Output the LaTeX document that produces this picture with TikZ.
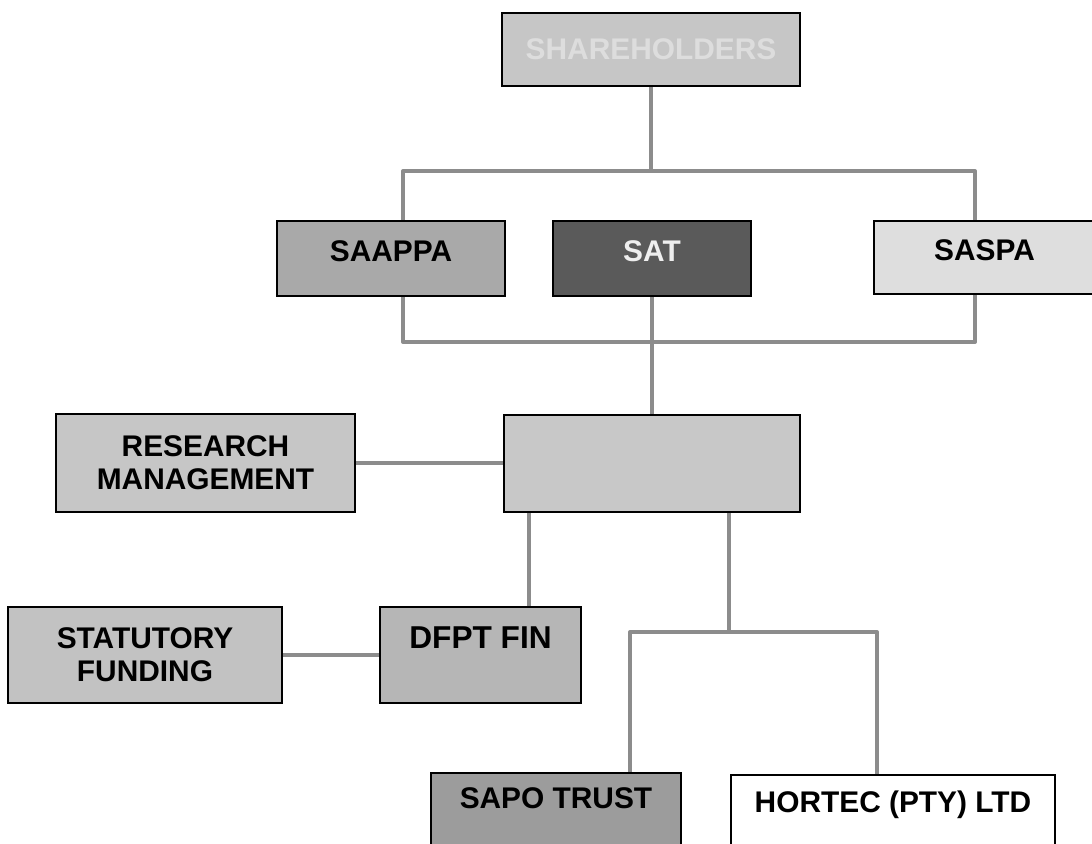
\documentclass[tikz,border=0pt]{standalone}
\usepackage{fontspec}
\setmainfont{Liberation Sans}
\definecolor{linkgray}{HTML}{8C8C8C}
\definecolor{topgray}{HTML}{C6C6C6}
\definecolor{saappagray}{HTML}{A9A9A9}
\definecolor{satgray}{HTML}{5A5A5A}
\definecolor{saspagray}{HTML}{DEDEDE}
\definecolor{midgray}{HTML}{C8C8C8}
\definecolor{resgray}{HTML}{C6C6C6}
\definecolor{statgray}{HTML}{C2C2C2}
\definecolor{fingray}{HTML}{B6B6B6}
\definecolor{sapogray}{HTML}{9C9C9C}
\begin{document}
\begin{tikzpicture}[x=0.02cm, y=-0.02cm,
  box/.style={draw=black, line width=1.6pt, inner sep=0pt, align=center,
    font=\bfseries\fontsize{17}{19}\selectfont},
  link/.style={draw=linkgray, line width=2.3pt, line join=round}]
 \useasboundingbox (0,0) rectangle (1092,844);

 %% top level
 \node [box, fill=topgray, text=white!40!topgray, minimum width=5.96cm, minimum height=1.46cm] (holders) at (651,49.5) {SHAREHOLDERS};

 \node [box, fill=saappagray, text depth=9pt, minimum width=4.56cm, minimum height=1.5cm] (saappa) at (391,258.5) {SAAPPA};
 \node [box, fill=satgray, text=white!90!satgray, text depth=9pt, minimum width=3.96cm, minimum height=1.5cm] (sat) at (652,258.5) {SAT};
 \node [box, fill=saspagray, text depth=9pt, minimum width=4.42cm, minimum height=1.46cm] (saspa) at (984.5,257.5) {SASPA};

 %% middle
 \node [box, fill=midgray, minimum width=5.92cm, minimum height=1.94cm] (dfpt) at (652,463.5) {};
 \node [box, fill=resgray, minimum width=5.98cm, minimum height=1.96cm] (research) at (205.5,463) {RESEARCH\\MANAGEMENT};

 \node [box, fill=statgray, minimum width=5.48cm, minimum height=1.92cm] (statutory) at (145,655) {STATUTORY\\FUNDING};
 \node [box, fill=fingray, font=\bfseries\fontsize{18}{20}\selectfont, text depth=20pt, minimum width=4.02cm, minimum height=1.92cm] (dfptfin) at (480.5,655) {DFPT FIN};

 %% bottom
 \node [box, fill=sapogray, text depth=15pt, minimum width=5cm, minimum height=1.54cm] (sapo) at (556,811.5) {SAPO TRUST};
 \node [box, fill=white, text depth=12pt, minimum width=6.48cm, minimum height=1.5cm] (hortec) at (893,812.5) {HORTEC (PTY) LTD};

 \coordinate (topbar) at (651,171);
 \coordinate (barl) at (403,171);
 \coordinate (barr) at (975,171);
 \coordinate (lowbar) at (651,342);
 \coordinate (fintap) at (529,560);
 \coordinate (subtap) at (729,632);
 \coordinate (sapotap) at (630,632);
 \coordinate (hortap) at (877,632);

 \draw [link] (holders.south) -- (topbar);
 \draw [link] (saappa.north -| barl) -- (barl) -- (barr) -- (saspa.north -| barr);
 \draw [link] (saappa.south -| barl) -- (barl |- lowbar) -- (barr |- lowbar) -- (saspa.south -| barr);
 \draw [link] (sat.south) -- (dfpt.north);

 \draw [link] (research.east) -- (research.east -| dfpt.west);
 \draw [link] (dfpt.south -| fintap) -- (dfptfin.north -| fintap);
 \draw [link] (statutory.east) -- (dfptfin.west);
 \draw [link] (dfpt.south -| subtap) -- (subtap);
 \draw [link] (sapo.north -| sapotap) -- (sapotap) -- (hortap) -- (hortec.north -| hortap);
\end{tikzpicture}
\end{document}
